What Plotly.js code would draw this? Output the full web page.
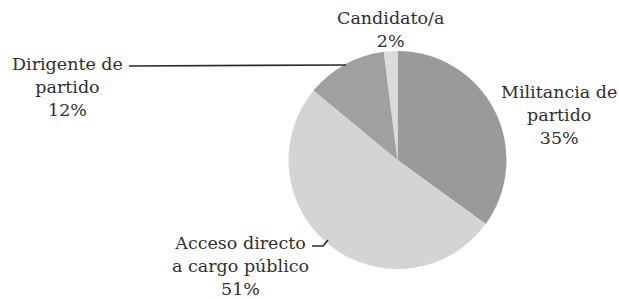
<!DOCTYPE html>
<html>
<head>
<meta charset="utf-8">
<script src="https://cdn.plot.ly/plotly-3.0.1.min.js"></script>
<style>html,body{margin:0;padding:0;background:#fff;}#chart{width:619px;height:299px;}</style>
</head>
<body>
<div id="chart"></div>
<script>
const categories = ["Militancia de<br>partido", "Acceso directo<br>a cargo público", "Dirigente de<br>partido", "Candidato/a"];
const values = [35, 51, 12, 2];
const colors = ["#989a9c", "#d3d4d6", "#9fa0a2", "#dadbdd"];

// label anchor positions (pixels in the 619x299 canvas)
const labelPos = [
  {x: 559, y: 115},
  {x: 240, y: 266},
  {x: 67, y: 87},
  {x: 390, y: 29}
];
const W = 619, H = 299;
const fontFam = "DejaVu Serif, serif";

const annotations = categories.map((c, i) => ({
  text: c + "<br>" + values[i] + "%",
  x: labelPos[i].x / W, y: 1 - labelPos[i].y / H,
  xref: "paper", yref: "paper", xanchor: "center", yanchor: "middle",
  showarrow: false, align: "center",
  font: {family: fontFam, size: 17.5, color: "#2f2f2f"}
}));

const shapes = [
  {type: "line", xref: "paper", yref: "paper",
   x0: 129 / W, y0: 1 - 66 / H, x1: 346 / W, y1: 1 - 65 / H,
   line: {color: "#2a2a2a", width: 1.6}},
  {type: "path", xref: "paper", yref: "paper",
   path: "M " + (312 / W) + "," + (1 - 246 / H) + " L " + (323 / W) + "," + (1 - 246 / H) + " L " + (328 / W) + "," + (1 - 240 / H),
   line: {color: "#2a2a2a", width: 1.6}}
];

const trace = {
  type: "pie",
  labels: categories,
  values: values,
  sort: false,
  direction: "clockwise",
  rotation: 0,
  textinfo: "none",
  hoverinfo: "label+percent",
  marker: {colors: colors, line: {width: 0}},
  domain: {x: [288.5 / W, 506.5 / W], y: [1 - 269 / H, 1 - 51 / H]},
  showlegend: false
};

Plotly.newPlot("chart", [trace], {
  width: W, height: H,
  margin: {l: 0, r: 0, t: 0, b: 0},
  paper_bgcolor: "#ffffff",
  showlegend: false,
  annotations: annotations,
  shapes: shapes
}, {displayModeBar: false, staticPlot: true});
</script>
</body>
</html>
